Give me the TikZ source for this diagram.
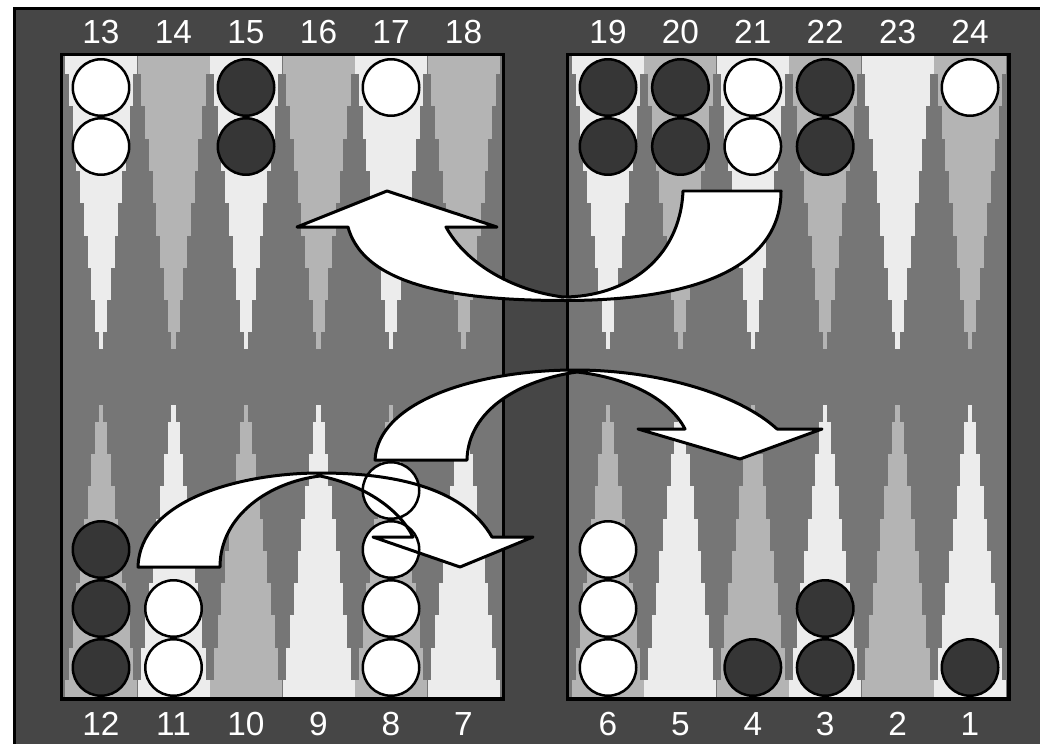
\documentclass[tikz,border=0pt]{standalone}
\usepackage{fontspec}
\setmainfont{Liberation Sans}
\usepackage{xcolor}
\usepackage{tikz}
\usetikzlibrary{calc}
\definecolor{marco}{HTML}{464646}
\definecolor{tablero}{HTML}{767676}
\definecolor{claro}{HTML}{ECECEC}
\definecolor{medio}{HTML}{B4B4B4}
\definecolor{oscura}{HTML}{363636}
\tikzset{
  ficha/.style={circle, draw=black, line width=0.05cm, minimum size=1.13cm, inner sep=0pt},
  fblanca/.style={ficha, fill=white},
  fnegra/.style={ficha, fill=oscura},
  num/.style={text=white, inner sep=0pt, font=\fontsize{19}{22}\selectfont},
  borde/.style={draw=black, line width=0.065cm},
  flecha/.style={draw=black, line width=0.06cm, line join=round},
}
% contornos de las tres flechas (en pixeles)
\newcommand{\flechaSup}{(781,191) .. controls (781,265) and (700,300.5) .. (565,300.5)
  .. controls (470,300.5) and (365,290) .. (348,227) -- (297,227) -- (387,191) -- (497,227) -- (446,227)
  .. controls (465,262) and (510,290) .. (563,297) .. controls (625,297) and (680,260) .. (683,191) -- cycle}
\newcommand{\flechaMed}{(375,460) .. controls (378,400) and (480,370) .. (575,370)
  .. controls (660,370) and (740,395) .. (777,429) -- (822,429) -- (740,459) -- (638,429) -- (685,429)
  .. controls (670,400) and (630,378) .. (577,372) .. controls (520,380) and (468,410) .. (467,460) -- cycle}
\newcommand{\flechaInf}{(138,567) .. controls (140,500) and (240,473) .. (320,473)
  .. controls (400,473) and (465,490) .. (492,537) -- (533,537) -- (460,567) -- (373,537) -- (413,537)
  .. controls (400,510) and (365,485) .. (320,476) .. controls (270,482) and (220,515) .. (220,567) -- cycle}

\begin{document}
\begin{tikzpicture}[x=0.02cm, y=-0.02cm]
  \clip (0,0) rectangle (1040,743);
  \fill[white] (0,0) rectangle (1040,743);
  \filldraw[fill=marco, draw=black, line width=0.06cm] (14.5,8.5) rectangle (1060,760);
  % tableros
  \fill[tablero] (61.5,54.5) rectangle (503.5,699);
  \fill[tablero] (567.5,54.5) rectangle (1009,699);
  % puntas escalonadas
  \foreach \x/\arr/\abj in {101/claro/medio, 173.5/medio/claro, 246/claro/medio, 318.5/medio/claro,
      391/claro/medio, 463.5/medio/claro, 608/claro/medio, 680.4/medio/claro,
      752.8/claro/medio, 825.2/medio/claro, 897.6/claro/medio, 970/medio/claro} {
    \foreach \k in {0,...,9} {
      \pgfmathsetmacro\ancho{36-3.75*\k}
      \pgfmathsetmacro\largo{min(19+32.3*\k,294)}
      \fill[\arr] (\x-\ancho,55) rectangle (\x+\ancho,55+\largo);
      \fill[\abj] (\x-\ancho,699) rectangle (\x+\ancho,699-\largo);
    }
  }
  \draw[borde] (61.5,54.5) rectangle (503.5,699);
  \draw[borde] (567.5,54.5) rectangle (1009,699);
  % relleno de flechas
  \fill[white] \flechaSup;
  \fill[white] \flechaMed;
  \fill[white] \flechaInf;
  % fichas
  \foreach \x/\n/\col/\p in {101/2/fblanca/13, 246/2/fnegra/15, 391/1/fblanca/17, 608/2/fnegra/19,
      680.4/2/fnegra/20, 752.8/2/fblanca/21, 825.2/2/fnegra/22, 970/1/fblanca/24} {
    \foreach \k in {1,...,\n}
      \node[\col] (f\p-\k) at (\x,87.5+59*\k-59) {};
  }
  \foreach \x/\n/\col/\p in {101/3/fnegra/12, 173.5/2/fblanca/11, 391/4/fblanca/8, 608/3/fblanca/6,
      752.8/1/fnegra/4, 825.2/2/fnegra/3, 970/1/fnegra/1} {
    \foreach \k in {1,...,\n}
      \node[\col] (f\p-\k) at (\x,667.5-59*\k+59) {};
  }
  % contorno de flechas
  \draw[flecha] \flechaSup;
  \draw[flecha] \flechaMed;
  \draw[flecha] \flechaInf;
  % numeros
  \foreach \x/\na/\nb in {101/13/12, 173.5/14/11, 246/15/10, 318.5/16/9, 391/17/8, 463.5/18/7,
      608/19/6, 680.4/20/5, 752.8/21/4, 825.2/22/3, 897.6/23/2, 970/24/1} {
    \node[num] (p\na) at (\x,32) {\na};
    \node[num] (p\nb) at (\x,724) {\nb};
  }
\end{tikzpicture}
\end{document}
